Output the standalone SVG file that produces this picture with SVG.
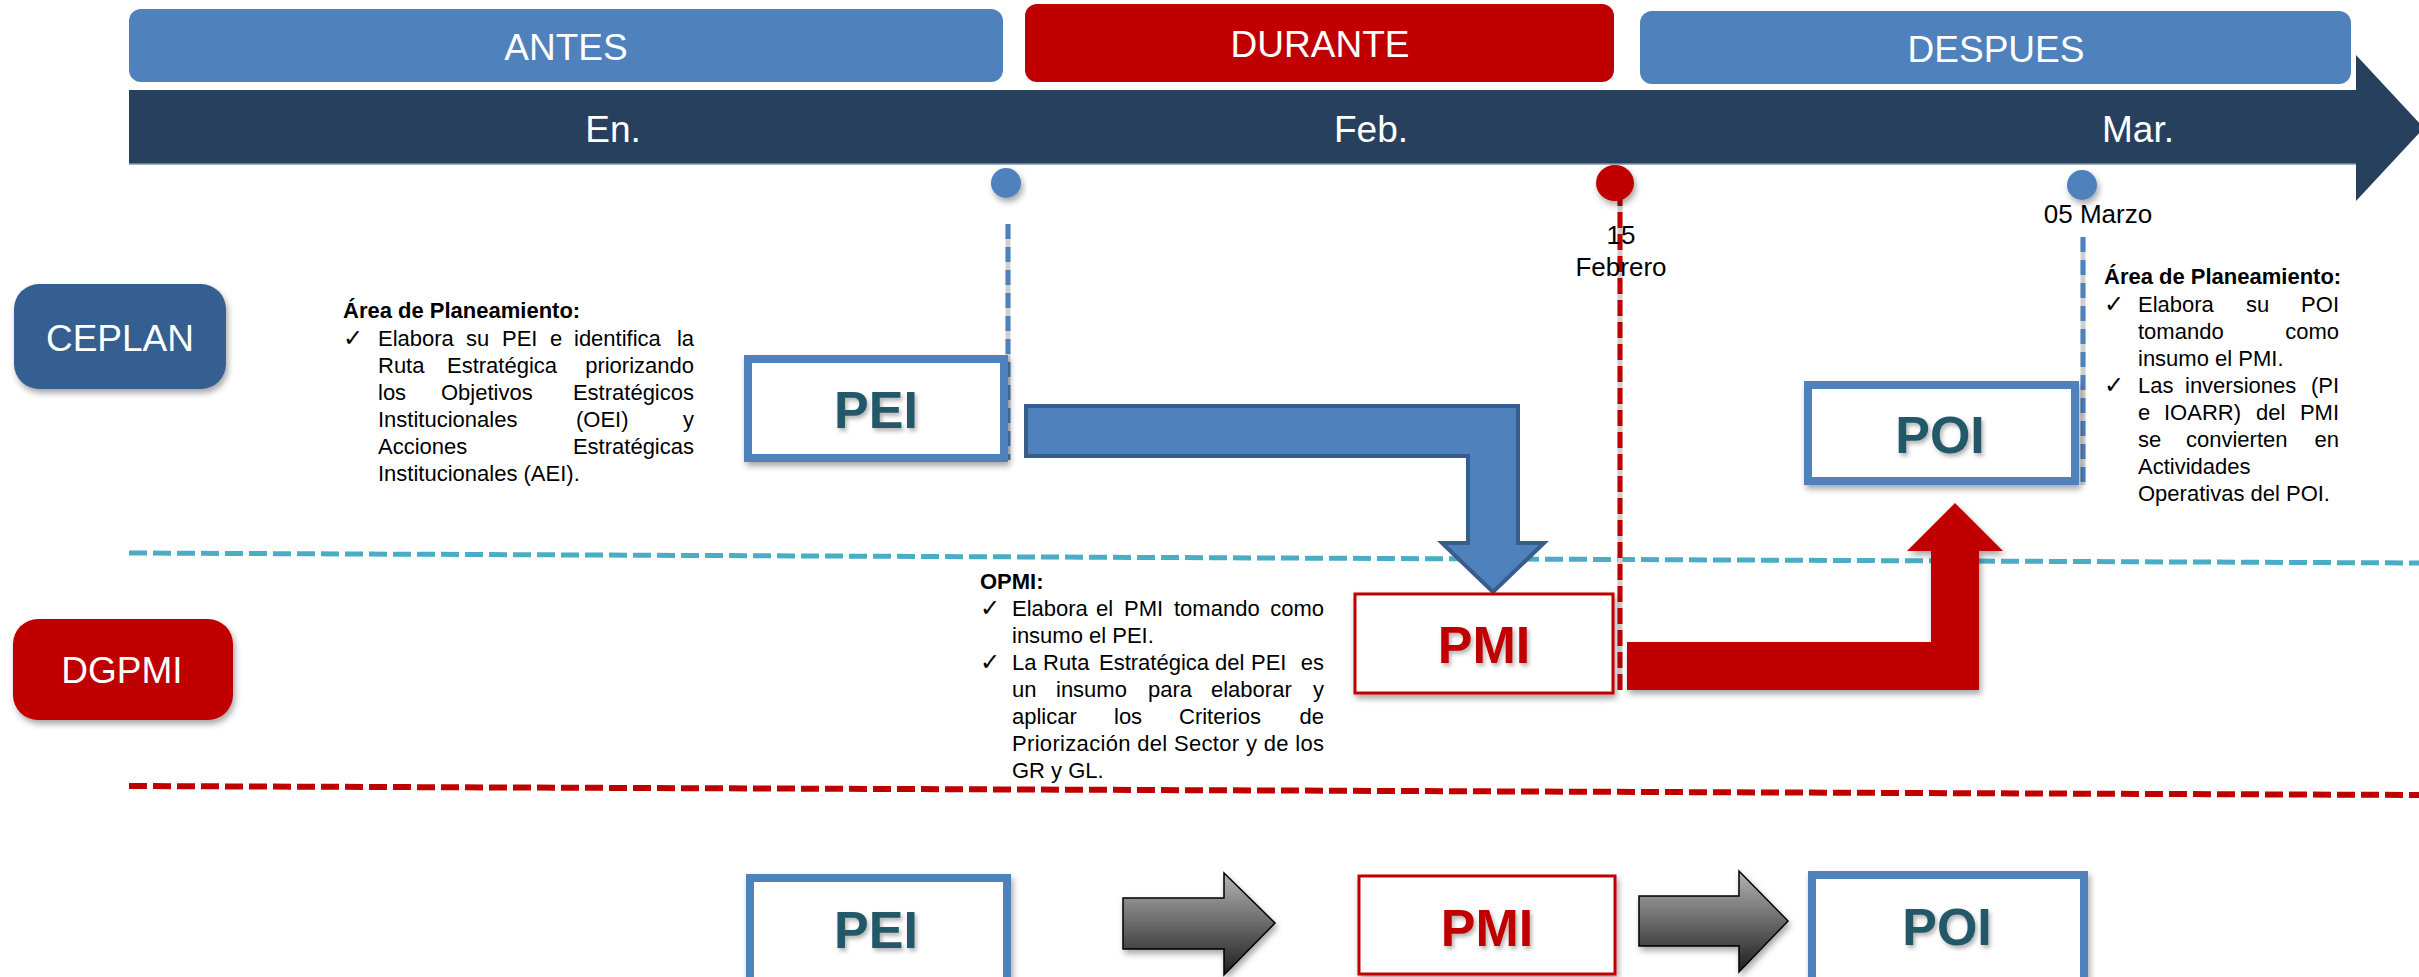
<svg xmlns="http://www.w3.org/2000/svg" width="2419" height="977" viewBox="0 0 2419 977">
<style>
text{font-family:"Liberation Sans","DejaVu Sans",Arial,sans-serif}
.hd{font-size:37px;fill:#fff;text-anchor:middle}
.big{font-size:52px;font-weight:bold;text-anchor:middle}
.teal{fill:#215868}
.redt{fill:#C00000}
.body{font-size:22px;fill:#000}
.bold{font-size:22px;font-weight:bold;fill:#000}
.chk{font-size:24px;fill:#000;font-family:"DejaVu Sans",sans-serif}
.date{font-size:26px;fill:#000;text-anchor:middle}
.end{text-anchor:end}
.bluebox{fill:#fff;stroke:#4F81BD;stroke-width:8}
.redbox{fill:#fff;stroke:#C00000;stroke-width:3}
.dashbg{stroke:#D0D0D0;stroke-width:5}
</style>
<defs>
<filter id="sh" x="-20%" y="-20%" width="140%" height="150%">
<feDropShadow dx="2" dy="4" stdDeviation="3" flood-color="#000" flood-opacity="0.35"/>
</filter>
<filter id="tsh" x="-20%" y="-20%" width="140%" height="150%">
<feDropShadow dx="2" dy="3" stdDeviation="2" flood-color="#000" flood-opacity="0.3"/>
</filter>
<linearGradient id="gg" x1="0" y1="0" x2="0" y2="1">
<stop offset="0" stop-color="#B4B4B4"/>
<stop offset="1" stop-color="#1E1E1E"/>
</linearGradient>
</defs>

<g id="phases">
<rect x="129" y="9" width="874" height="73" rx="12" fill="#4F81BD"/>
<text class="hd" x="566" y="60">ANTES</text>
<rect x="1025" y="4" width="589" height="78" rx="12" fill="#C00000"/>
<text class="hd" x="1320" y="57">DURANTE</text>
<rect x="1640" y="11" width="711" height="73" rx="12" fill="#4F81BD"/>
<text class="hd" x="1996" y="62">DESPUES</text>
</g>

<g id="timeline">
<polygon points="129,90 2356,90 2356,55 2424,128 2356,201 2356,164 129,164" fill="#27405E"/>
<line x1="129" y1="164" x2="2356" y2="164" stroke="#8096B0" stroke-width="1.5"/>
<text class="hd" x="613" y="142">En.</text>
<text class="hd" x="1371" y="142">Feb.</text>
<text class="hd" x="2138" y="142">Mar.</text>
</g>

<g id="lanes">
<line x1="129" y1="553" x2="2419" y2="563" stroke="#4BACC6" stroke-width="5" stroke-dasharray="18 6"/>
<line x1="129" y1="786" x2="2419" y2="795" stroke="#C00000" stroke-width="6" stroke-dasharray="18 6"/>
</g>

<g id="connectors">
<line class="dashbg" x1="1008" y1="224" x2="1008" y2="460"/>
<line x1="1008" y1="224" x2="1008" y2="460" stroke="#4F81BD" stroke-width="5" stroke-dasharray="15 8"/>
<line class="dashbg" x1="1620" y1="190" x2="1620" y2="690"/>
<line x1="1620" y1="190" x2="1620" y2="690" stroke="#C00000" stroke-width="5" stroke-dasharray="16 6"/>
<line class="dashbg" x1="2083" y1="237" x2="2083" y2="485"/>
<line x1="2083" y1="237" x2="2083" y2="485" stroke="#4F81BD" stroke-width="5" stroke-dasharray="15 8"/>
<polygon points="1026,406 1518,406 1518,543 1544,543 1493,592 1442,543 1468,543 1468,456 1026,456" fill="#4F81BD" stroke="#385D8A" stroke-width="4"/>
<polygon points="1627,642 1931,642 1931,551 1907,551 1955,503 2003,551 1979,551 1979,690 1627,690" fill="#C00000" filter="url(#sh)"/>
<polygon points="1123,898 1224,898 1224,873 1275,923 1224,975 1224,949 1123,949" fill="url(#gg)" stroke="#000" stroke-width="1.5" filter="url(#sh)"/>
<polygon points="1639,896 1739,896 1739,871 1788,921 1739,972 1739,946 1639,946" fill="url(#gg)" stroke="#000" stroke-width="1.5" filter="url(#sh)"/>
</g>

<g id="milestone-enero">
<circle cx="1006" cy="183" r="15" fill="#4F81BD" filter="url(#sh)"/>
</g>
<g id="milestone-febrero">
<ellipse cx="1615" cy="183" rx="19" ry="18" fill="#C00000" filter="url(#sh)"/>
<text class="date" x="1621" y="244">15</text>
<text class="date" x="1621" y="276">Febrero</text>
</g>
<g id="milestone-marzo">
<circle cx="2082" cy="185" r="15" fill="#4F81BD" filter="url(#sh)"/>
<text class="date" x="2098" y="223">05 Marzo</text>
</g>

<g id="ceplan">
<rect x="14" y="284" width="212" height="105" rx="25" fill="#365F91" filter="url(#sh)"/>
<text class="hd" x="120" y="351">CEPLAN</text>
</g>
<g id="dgpmi">
<rect x="13" y="619" width="220" height="101" rx="25" fill="#C00000" filter="url(#sh)"/>
<text class="hd" x="122" y="683">DGPMI</text>
</g>

<g id="pei">
<rect class="bluebox" x="748" y="359" width="256" height="99" filter="url(#sh)"/>
<text class="big teal" x="876" y="428" filter="url(#tsh)">PEI</text>
</g>
<g id="pmi">
<rect class="redbox" x="1355" y="594" width="258" height="99" filter="url(#sh)"/>
<text class="big redt" x="1484" y="663" filter="url(#tsh)">PMI</text>
</g>
<g id="poi">
<rect class="bluebox" x="1808" y="385" width="267" height="96" filter="url(#sh)"/>
<text class="big teal" x="1940" y="453" filter="url(#tsh)">POI</text>
</g>

<g id="text-ceplan-antes">
<text class="bold" x="343" y="318">Área de Planeamiento:</text>
<text class="chk" x="343" y="346">✓</text>
<text class="body" y="346"><tspan x="378">Elabora</tspan><tspan x="466">su</tspan><tspan x="502">PEI</tspan><tspan x="550">e</tspan><tspan x="574">identifica</tspan></text>
<text class="body end" x="694" y="346">la</text>
<text class="body" y="373"><tspan x="378">Ruta</tspan><tspan x="447">Estratégica</tspan></text>
<text class="body end" x="694" y="373">priorizando</text>
<text class="body" y="400"><tspan x="378">los</tspan><tspan x="441">Objetivos</tspan></text>
<text class="body end" x="694" y="400">Estratégicos</text>
<text class="body" y="427"><tspan x="378">Institucionales</tspan><tspan x="576">(OEI)</tspan></text>
<text class="body end" x="694" y="427">y</text>
<text class="body" x="378" y="454">Acciones</text>
<text class="body end" x="694" y="454">Estratégicas</text>
<text class="body" x="378" y="481">Institucionales (AEI).</text>
</g>

<g id="text-opmi">
<text class="bold" x="980" y="589">OPMI:</text>
<text class="chk" x="980" y="616">✓</text>
<text class="body" y="616"><tspan x="1012">Elabora</tspan><tspan x="1096">el</tspan><tspan x="1124">PMI</tspan><tspan x="1174">tomando</tspan></text>
<text class="body end" x="1324" y="616">como</text>
<text class="body" x="1012" y="643">insumo el PEI.</text>
<text class="chk" x="980" y="670">✓</text>
<text class="body" y="670"><tspan x="1012">La</tspan><tspan x="1043">Ruta</tspan><tspan x="1099">Estratégica</tspan><tspan x="1215">del</tspan><tspan x="1251">PEI</tspan></text>
<text class="body end" x="1324" y="670">es</text>
<text class="body" y="697"><tspan x="1012">un</tspan><tspan x="1056">insumo</tspan><tspan x="1148">para</tspan><tspan x="1211">elaborar</tspan></text>
<text class="body end" x="1324" y="697">y</text>
<text class="body" y="724"><tspan x="1012">aplicar</tspan><tspan x="1114">los</tspan><tspan x="1179">Criterios</tspan></text>
<text class="body end" x="1324" y="724">de</text>
<text class="body" x="1012" y="751" textLength="312" lengthAdjust="spacing">Priorización del Sector y de los</text>
<text class="body" x="1012" y="778">GR y GL.</text>
</g>

<g id="text-ceplan-despues">
<text class="bold" x="2104" y="284">Área de Planeamiento:</text>
<text class="chk" x="2104" y="312">✓</text>
<text class="body" y="312"><tspan x="2138">Elabora</tspan><tspan x="2246">su</tspan></text>
<text class="body end" x="2339" y="312">POI</text>
<text class="body" x="2138" y="339">tomando</text>
<text class="body end" x="2339" y="339">como</text>
<text class="body" x="2138" y="366">insumo el PMI.</text>
<text class="chk" x="2104" y="393">✓</text>
<text class="body" y="393"><tspan x="2138">Las</tspan><tspan x="2185">inversiones</tspan></text>
<text class="body end" x="2339" y="393">(PI</text>
<text class="body" y="420"><tspan x="2138">e</tspan><tspan x="2164">IOARR)</tspan><tspan x="2256">del</tspan></text>
<text class="body end" x="2339" y="420">PMI</text>
<text class="body" y="447"><tspan x="2138">se</tspan><tspan x="2186">convierten</tspan></text>
<text class="body end" x="2339" y="447">en</text>
<text class="body" x="2138" y="474">Actividades</text>
<text class="body" x="2138" y="501">Operativas del POI.</text>
</g>

<g id="summary-pei">
<rect class="bluebox" x="750" y="878" width="257" height="130" filter="url(#sh)"/>
<text class="big teal" x="876" y="948" filter="url(#tsh)">PEI</text>
</g>
<g id="summary-pmi">
<rect class="redbox" x="1359" y="876" width="256" height="98" filter="url(#sh)"/>
<text class="big redt" x="1487" y="946" filter="url(#tsh)">PMI</text>
</g>
<g id="summary-poi">
<rect class="bluebox" x="1812" y="875" width="272" height="130" filter="url(#sh)"/>
<text class="big teal" x="1947" y="945" filter="url(#tsh)">POI</text>
</g>
</svg>
